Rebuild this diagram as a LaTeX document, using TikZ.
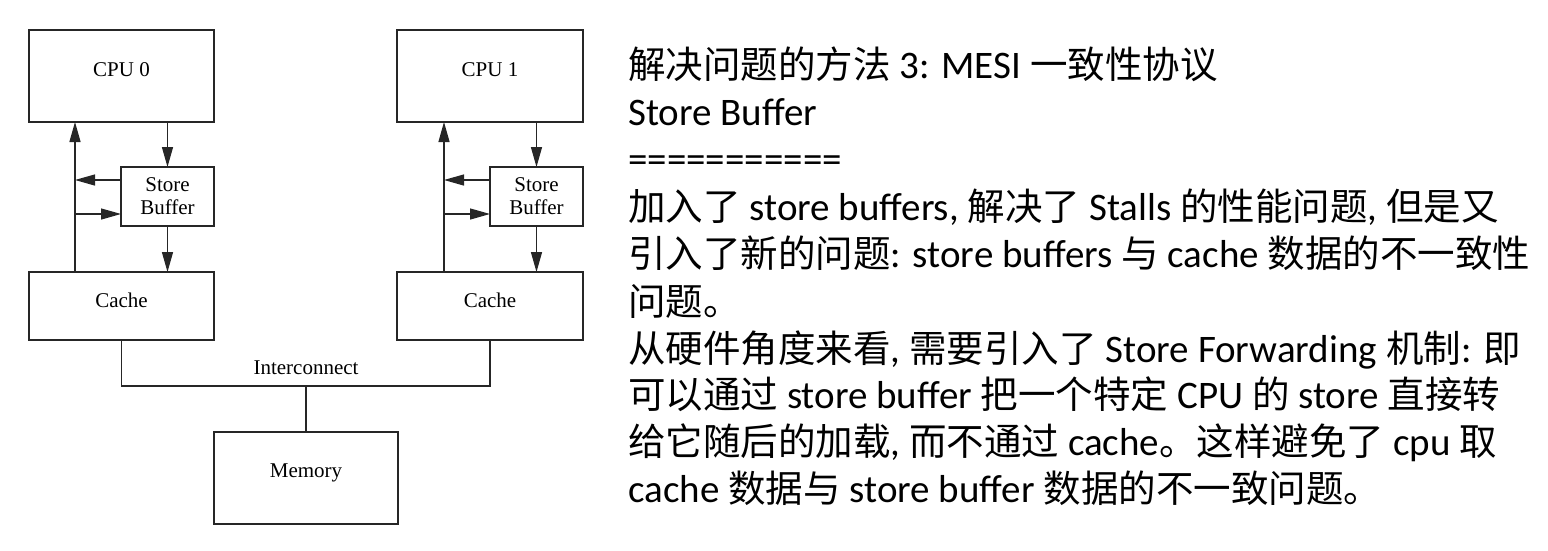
\documentclass[tikz,border=0pt]{standalone}
\usepackage{fontspec}
\setmainfont{Liberation Serif}
\newfontfamily\cjk{Noto Sans CJK SC}
\newfontfamily\lat{Carlito}
\newcommand\zh[1]{{\cjk\fontsize{37.5}{47}\selectfont #1}}
\usetikzlibrary{arrows.meta,calc}
\begin{document}
\begin{tikzpicture}[x=1pt,y=-1pt,
  box/.style={draw=black!85,line width=1.3pt,rectangle,inner sep=0pt,outer sep=0pt},
  lbl/.style={font=\fontsize{21}{22}\selectfont,inner sep=0pt,align=center},
  conn/.style={draw=black!85,line width=1.3pt},
  arr/.style={conn,-{Triangle[length=20pt,width=11pt]}},
  txt/.style={font=\lat\fontsize{39}{47}\selectfont,anchor=base west,inner sep=0pt}]
\useasboundingbox (0,0) rectangle (1548,550);
% boxes
\node[box,minimum width=185pt,minimum height=92pt] (cpu0) at (121.5,76) {};
\node[box,minimum width=186pt,minimum height=92pt] (cpu1) at (490,76) {};
\node[box,minimum width=93pt,minimum height=59pt] (sb0) at (167.5,196.5) {};
\node[box,minimum width=93pt,minimum height=59pt] (sb1) at (536.5,196.5) {};
\node[box,minimum width=185pt,minimum height=68pt] (cache0) at (121.5,306) {};
\node[box,minimum width=186pt,minimum height=68pt] (cache1) at (490,306) {};
\node[box,minimum width=184pt,minimum height=92pt] (mem) at (306,478) {};
% labels
\node[lbl] (l-cpu0) at ($(cpu0.center)+(0,-6)$) {CPU 0};
\node[lbl] (l-cpu1) at ($(cpu1.center)+(0,-6)$) {CPU 1};
\node[lbl] (l-sb0) at (sb0.center) {Store\\[1pt]Buffer};
\node[lbl] (l-sb1) at (sb1.center) {Store\\[1pt]Buffer};
\node[lbl] (l-c0) at ($(cache0.center)+(0,-6)$) {Cache};
\node[lbl] (l-c1) at ($(cache1.center)+(0,-6)$) {Cache};
\node[lbl] (l-mem) at ($(mem.center)+(0,-5)$) {Memory};
\node[lbl] (l-ic) at (306,368) {Interconnect};
% helper coordinates
\coordinate (u0) at (75,0);
\coordinate (u1) at (444,0);
\coordinate (ya) at (0,180);
\coordinate (yb) at (0,214);
\coordinate (bus) at (0,386);
% CPU 0 arrows
\draw[arr] (cache0.north -| u0) -- (cpu0.south -| u0);
\draw[arr] (cpu0.south -| sb0) -- (sb0.north);
\draw[arr] (sb0.south) -- (cache0.north -| sb0);
\draw[arr] (sb0.west |- ya) -- (u0 |- ya);
\draw[arr] (u0 |- yb) -- (sb0.west |- yb);
% CPU 1 arrows
\draw[arr] (cache1.north -| u1) -- (cpu1.south -| u1);
\draw[arr] (cpu1.south -| sb1) -- (sb1.north);
\draw[arr] (sb1.south) -- (cache1.north -| sb1);
\draw[arr] (sb1.west |- ya) -- (u1 |- ya);
\draw[arr] (u1 |- yb) -- (sb1.west |- yb);
% interconnect
\draw[conn] (cache0.south) -- (cache0.south |- bus) -- (cache1.south |- bus) -- (cache1.south);
\draw[conn] (mem.north |- bus) -- (mem.north);
% text
\node[txt] (t1) at (628,78) {\zh{解决问题的方法} 3: MESI \zh{一致性协议}};
\node[txt] (t2) at (628,125) {Store Buffer};
\node[txt] (t3) at (628,172) {===========};
\node[txt] (t4) at (628,220) {\zh{加入了} store buffers, \zh{解决了} Stalls \zh{的性能问题}, \zh{但是又}};
\node[txt] (t5) at (628,267) {\zh{引入了新的问题}: store buffers \zh{与} cache \zh{数据的不一致性}};
\node[txt] (t6) at (628,315) {\zh{问题。}};
\node[txt] (t7) at (628,362) {\zh{从硬件角度来看}, \zh{需要引入了} Store Forwarding \zh{机制}: \zh{即}};
\node[txt] (t8) at (628,408) {\zh{可以通过} store buffer \zh{把一个特定} CPU \zh{的} store \zh{直接转}};
\node[txt] (t9) at (628,455) {\zh{给它随后的加载}, \zh{而不通过} cache\zh{。这样避免了} cpu \zh{取}};
\node[txt] (t10) at (628,502) {cache \zh{数据与} store buffer \zh{数据的不一致问题。}};
\end{tikzpicture}
\end{document}
